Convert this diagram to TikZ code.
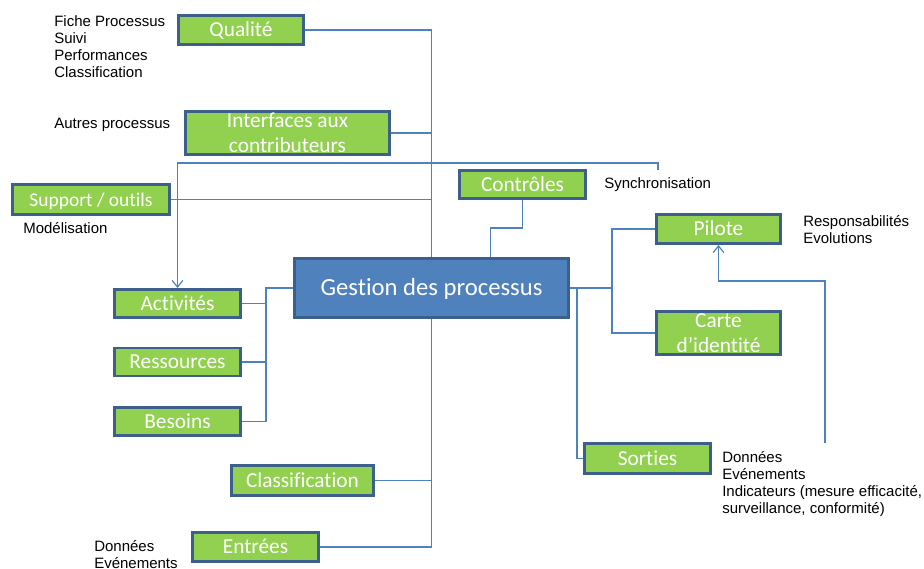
\documentclass[tikz,border=0pt]{standalone}
\usepackage{fontspec}
\setmainfont{Liberation Sans}
\newfontfamily\boxfont[Ligatures=NoCommon]{Carlito}
\usetikzlibrary{calc,arrows.meta}

\definecolor{boxgreen}{RGB}{146,208,80}
\definecolor{boxedge}{RGB}{60,95,140}
\definecolor{gestblue}{RGB}{79,129,189}
\definecolor{linkblue}{RGB}{79,129,189}

\tikzset{
	greenbox/.style={draw=boxedge, line width=2.2pt, fill=boxgreen, text=white, inner sep=0pt, align=center, font=\boxfont\fontsize{16}{18.5}\selectfont},
	oneline/.style={greenbox, text height=12pt, text depth=1.7pt},
	gestbox/.style={greenbox, fill=gestblue, text height=13.5pt, text depth=1.6pt, font=\boxfont\fontsize{18.5}{22}\selectfont},
	note/.style={anchor=north west, inner sep=0pt, align=left, font=\fontsize{11.25}{12.75}\selectfont},
	link/.style={draw=linkblue, line width=0.9pt},
	linkarr/.style={link, -{Straight Barb[length=5pt,width=8pt]}}
}

\begin{document}
\begin{tikzpicture}[x=0.75pt,y=0.75pt,yscale=-1,xscale=1]
		\useasboundingbox (0,0) rectangle (924,568);
		
		% boxes
		\node [gestbox, minimum width=205.5pt, minimum height=44.25pt] (gest) at (431.5,288) {Gestion des processus};
		\node [oneline, minimum width=93.75pt, minimum height=21.75pt] (qual) at (241,30) {Qualité};
		\node [greenbox, minimum width=153pt, minimum height=32.25pt] (inter) at (287.5,133) {Interfaces aux\\contributeurs};
		\node [oneline, minimum width=117.75pt, minimum height=22.5pt, font=\boxfont\fontsize{14.6}{17}\selectfont] (supp) at (91,199.5) {Support / outils};
		\node [oneline, minimum width=94.5pt, minimum height=21pt] (ctrl) at (522.5,184.5) {Contrôles};
		\node [oneline, minimum width=93pt, minimum height=21.75pt] (pil) at (718.5,229) {Pilote};
		\node [greenbox, minimum width=93pt, minimum height=32.25pt] (carte) at (718.5,333) {Carte\\d’identité};
		\node [oneline, minimum width=94.5pt, minimum height=21pt] (act) at (177.5,303.5) {Activités};
		\node [oneline, minimum width=94.5pt, minimum height=21pt] (res) at (177.5,362) {Ressources};
		\node [oneline, minimum width=94.5pt, minimum height=21pt] (bes) at (177.5,421.5) {Besoins};
		\node [oneline, minimum width=94.5pt, minimum height=22.5pt] (sort) at (647.5,458.5) {Sorties};
		\node [oneline, minimum width=106.5pt, minimum height=22.5pt] (class) at (302.5,480.5) {Classification};
		\node [oneline, minimum width=94.5pt, minimum height=21.75pt] (entr) at (255.5,547) {Entrées};
		
		% notes
		\node [note] (fiche) at (54,15) {Fiche Processus\\Suivi\\Performances\\Classification};
		\node [note] (autres) at (54,118) {Autres processus};
		\node [note] (model) at (23,222) {Modélisation};
		\node [note] (sync) at (604,177) {Synchronisation};
		\node [note] (resp) at (803,215) {Responsabilités\\Evolutions};
		\node [note] (sortnote) at (722,451) {Données\\Evénements\\Indicateurs (mesure efficacité,\\surveillance, conformité)};
		\node [note] (entrnote) at (94,540) {Données\\Evénements};
		
		\coordinate (synctop) at (658,170);
		\coordinate (pilback) at (825,443);
		
		% trunk
		\draw [link] (qual.east) -| (gest.north);
		\draw [link] (inter.east) -- (inter.east -| gest.north);
		\draw [link] (supp.east) -- (supp.east -| gest.north);
		\draw [link] (gest.south) |- (entr.east);
		\draw [link] (class.east) -- (class.east -| gest.south);
		\draw [link] (ctrl.south) |- ($(gest.north)+(59,-29)$) -- ($(gest.north)+(59,0)$);
		
		% left side
		\draw [link] (gest.west) -- ++(-27,0) coordinate (lbr) |- (bes.east);
		\draw [link] (act.east) -- (act.east -| lbr);
		\draw [link] (res.east) -- (res.east -| lbr);
		
		% right side
		\draw [link] (gest.east) -- ++(42,0) coordinate (rbr) |- (pil.west);
		\draw [link] (rbr) |- (carte.west);
		\draw [link] ($(gest.east)+(7,0)$) |- (sort.west);
		
		% arrows
		\draw [linkarr] (synctop) -- ++(0,-7) -| (act.north);
		\draw [linkarr] (pilback) |- ($(pil.south)+(0,36)$) -- (pil.south);
		
\end{tikzpicture}
\end{document}
